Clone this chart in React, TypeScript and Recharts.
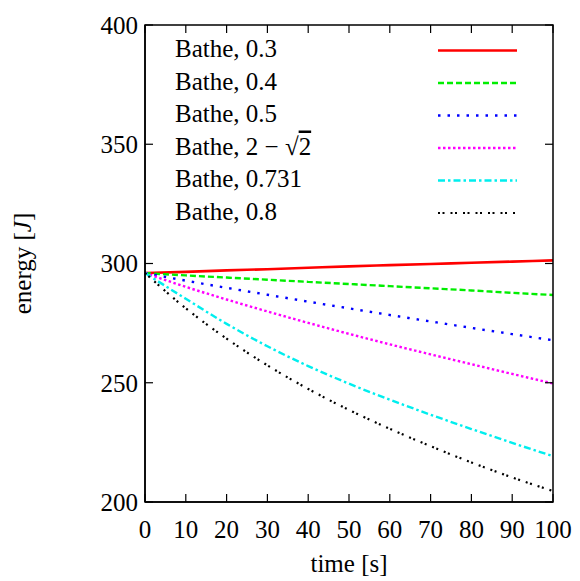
import { Label, Legend, Line, LineChart, XAxis, YAxis } from "recharts";

const times = [0, 10, 20, 30, 40, 50, 60, 70, 80, 90, 100];
const bathe03 = [296.0, 296.5, 297.1, 297.6, 298.2, 298.8, 299.3, 299.8, 300.3, 300.8, 301.3];
const bathe04 = [296.0, 295.0, 294.1, 293.2, 292.3, 291.4, 290.5, 289.6, 288.7, 287.7, 286.8];
const bathe05 = [296.0, 292.8, 289.8, 286.9, 284.0, 281.2, 278.4, 275.7, 273.0, 270.4, 267.8];
const batheSqrt = [296.0, 290.2, 284.9, 279.9, 275.1, 270.5, 266.1, 261.9, 257.8, 253.7, 249.7];
const bathe0731 = [296.0, 285.2, 274.7, 265.3, 257.0, 249.6, 242.9, 236.6, 230.6, 224.8, 219.2];
const bathe08 = [296.0, 281.2, 268.5, 257.3, 247.4, 238.6, 230.7, 223.4, 216.6, 210.3, 204.6];

const xTicks = [0, 10, 20, 30, 40, 50, 60, 70, 80, 90, 100];
const yTicks = [200, 250, 300, 350, 400];
const xDomain = [0, 100];
const yDomain = [200, 400];

const series = [
  { key: "b03", label: "Bathe, 0.3", values: bathe03, color: "#ff0000", dash: undefined, width: 2.6 },
  { key: "b04", label: "Bathe, 0.4", values: bathe04, color: "#00ee00", dash: "6 3", width: 2.4 },
  { key: "b05", label: "Bathe, 0.5", values: bathe05, color: "#0000ff", dash: "2.5 7", width: 2.4 },
  { key: "bsq", label: "sqrt", values: batheSqrt, color: "#ff00ff", dash: "2.5 2.5", width: 2.4 },
  { key: "b0731", label: "Bathe, 0.731", values: bathe0731, color: "#00eeee", dash: "7 3 2.5 3", width: 2.4 },
  { key: "b08", label: "Bathe, 0.8", values: bathe08, color: "#000000", dash: "2 2.5 2 6", width: 2.2 },
];

const data = times.map((t, i) => {
  const row: Record<string, number> = { t };
  series.forEach((s) => {
    row[s.key] = s.values[i];
  });
  return row;
});

const W = 580;
const H = 581;
const PLOT_LEFT = 145;
const PLOT_TOP = 25;
const PLOT_W = 408;
const PLOT_H = 477;
const TICK = 8;
const FONT = "Liberation Serif, DejaVu Serif";
const labelTick = { fontSize: 25, fill: "#000", fontFamily: FONT };
const frame = { stroke: "#000", strokeWidth: 1.5 };

// gnuplot-style box: frame plus inward ticks on all four sides, and the key
function Overlay() {
  const right = PLOT_LEFT + PLOT_W;
  const bottom = PLOT_TOP + PLOT_H;
  const px = (v: number) => PLOT_LEFT + ((v - xDomain[0]) / (xDomain[1] - xDomain[0])) * PLOT_W;
  const py = (v: number) => bottom - ((v - yDomain[0]) / (yDomain[1] - yDomain[0])) * PLOT_H;
  return (
    <svg width={W} height={H} style={{ display: "block", pointerEvents: "none" }}>
      <rect x={PLOT_LEFT} y={PLOT_TOP} width={PLOT_W} height={PLOT_H} fill="none" stroke="#000" strokeWidth={1.5} />
      {xTicks.map((v) => (
        <g key={`x${v}`} stroke="#000" strokeWidth={1.2}>
          <line x1={px(v)} x2={px(v)} y1={bottom} y2={bottom - TICK} />
          <line x1={px(v)} x2={px(v)} y1={PLOT_TOP} y2={PLOT_TOP + TICK} />
        </g>
      ))}
      {yTicks.map((v) => (
        <g key={`y${v}`} stroke="#000" strokeWidth={1.2}>
          <line x1={PLOT_LEFT} x2={PLOT_LEFT + TICK} y1={py(v)} y2={py(v)} />
          <line x1={right} x2={right - TICK} y1={py(v)} y2={py(v)} />
        </g>
      ))}
      {series.map((s, i) => {
        const base = 57 + i * 32.5;
        return (
          <g key={s.key}>
            <text x={175} y={base} fontSize={25} fontFamily={FONT} fill="#000">
              {s.label === "sqrt" ? (
                <>
                  {"Bathe, 2 \u2212  \u221A"}
                  <tspan style={{ textDecoration: "overline" }}>2</tspan>
                </>
              ) : (
                s.label
              )}
            </text>
            <line
              x1={438}
              x2={517}
              y1={base - 6.5}
              y2={base - 6.5}
              stroke={s.color}
              strokeWidth={s.width}
              strokeDasharray={s.dash}
            />
          </g>
        );
      })}
    </svg>
  );
}

export default function App() {
  return (
    <div style={{ position: "absolute", left: 0, top: 0, background: "#fff" }}>
      <LineChart
        width={W}
        height={H}
        data={data}
        margin={{ top: PLOT_TOP, right: W - PLOT_LEFT - PLOT_W, bottom: 0, left: 0 }}
      >
        <XAxis
          dataKey="t"
          type="number"
          domain={xDomain}
          ticks={xTicks}
          height={H - PLOT_TOP - PLOT_H}
          tick={labelTick}
          tickLine={false}
          tickSize={0}
          tickMargin={18}
          axisLine={frame}
        >
          <Label
            content={({ viewBox }: any) => (
              <text
                x={viewBox.x + viewBox.width / 2}
                y={572}
                textAnchor="middle"
                fontSize={25}
                fontFamily={FONT}
                fill="#000"
              >
                time [s]
              </text>
            )}
          />
        </XAxis>
        <YAxis
          type="number"
          domain={yDomain}
          ticks={yTicks}
          width={PLOT_LEFT}
          tick={labelTick}
          tickLine={false}
          tickSize={0}
          tickMargin={7}
          axisLine={frame}
        >
          <Label
            content={({ viewBox }: any) => {
              const cy = viewBox.y + viewBox.height / 2;
              return (
                <text
                  x={31}
                  y={cy}
                  transform={`rotate(-90, 31, ${cy})`}
                  textAnchor="middle"
                  fontSize={25}
                  fontFamily={FONT}
                  fill="#000"
                >
                  energy [<tspan fontStyle="italic">J</tspan>]
                </text>
              );
            }}
          />
        </YAxis>

        <Legend
          layout="horizontal"
          verticalAlign="middle"
          align="center"
          content={() => <Overlay />}
          wrapperStyle={{ position: "absolute", left: 0, top: 0, width: W, height: H }}
        />

        {series.map((s) => (
          <Line
            key={s.key}
            dataKey={s.key}
            type="monotone"
            stroke={s.color}
            strokeWidth={s.width}
            strokeDasharray={s.dash}
            dot={false}
            activeDot={false}
            isAnimationActive={false}
          />
        ))}
      </LineChart>
    </div>
  );
}
